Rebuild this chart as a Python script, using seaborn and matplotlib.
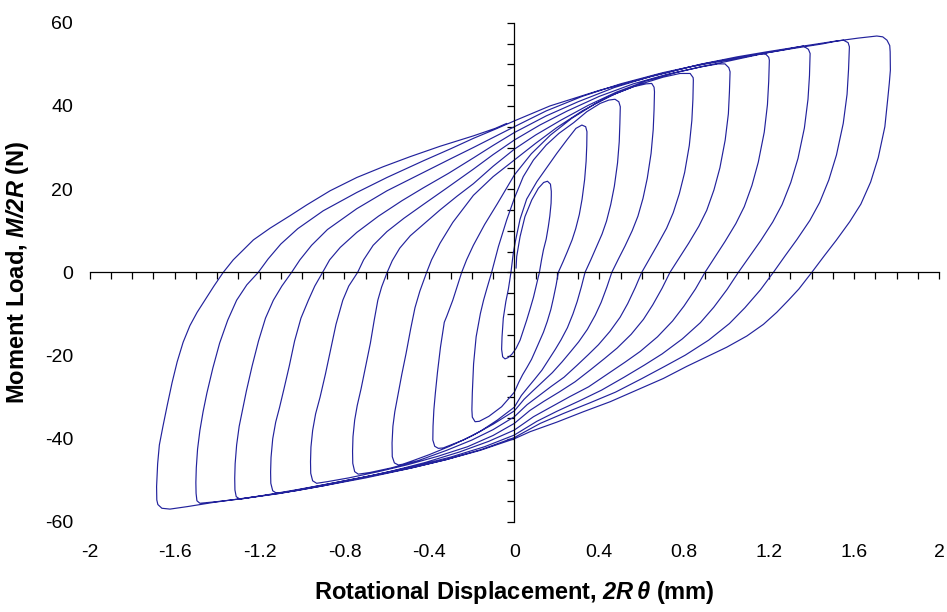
import matplotlib
matplotlib.use("Agg")
import matplotlib.pyplot as plt
import pandas as pd
import seaborn as sns

# ---------------- data ----------------
init_x = [0.008, 0.011, 0.027, 0.050, 0.082, 0.113, 0.138, 0.156, 0.170, 0.174]
init_y = [1.0, 3.8, 8.6, 13.4, 17.4, 20.2, 21.6, 21.9, 21.2, 19.5]

desc1_x = [0.174, 0.173, 0.167, 0.160, 0.150, 0.137, 0.128, 0.118, 0.104, 0.090, 0.074, 0.058, 0.042, 0.027, 0.008, -0.012, -0.030, -0.044, -0.055, -0.060]
desc1_y = [18.5, 16.6, 13.5, 11.0, 8.0, 5.4, 3.0, 0.0, -3.0, -6.0, -8.8, -11.5, -14.0, -16.3, -18.3, -19.7, -20.5, -20.8, -20.3, -18.5]
asc1_x = [-0.058, -0.052, -0.040, -0.028, -0.016, -0.005, 0.005, 0.027, 0.058, 0.106, 0.153, 0.200, 0.250, 0.290, 0.318, 0.336, 0.342]
asc1_y = [-15.5, -11.0, -7.0, -4.0, 0.0, 4.6, 7.5, 12.8, 17.6, 21.8, 25.2, 28.6, 32.0, 34.6, 35.4, 35.0, 33.8]

desc2_x = [0.341, 0.338, 0.331, 0.319, 0.306, 0.289, 0.272, 0.249, 0.229, 0.207, 0.197, 0.184, 0.172, 0.155, 0.137, 0.120, 0.101, 0.081, 0.060, 0.039, 0.021, 0.0, -0.060, -0.120, -0.165, -0.185, -0.198]
desc2_y = [30.4, 26.7, 22.3, 17.6, 13.9, 10.5, 7.8, 4.9, 2.5, 0.0, -3.0, -6.2, -8.9, -11.8, -14.4, -16.4, -18.6, -20.9, -22.8, -24.6, -26.4, -28.8, -32.3, -34.6, -35.8, -35.9, -34.8]
asc2_x = [-0.200, -0.198, -0.192, -0.180, -0.160, -0.145, -0.130, -0.107, -0.075, -0.036, 0.0, 0.042, 0.090, 0.150, 0.210, 0.280, 0.341, 0.404, 0.445, 0.474, 0.492, 0.499]
asc2_y = [-33.0, -29.0, -22.0, -15.5, -9.9, -6.7, -4.0, 0.0, 6.2, 12.6, 17.8, 23.0, 27.0, 30.6, 33.4, 36.0, 38.6, 40.6, 41.4, 41.6, 41.0, 39.8]

desc3_x = [0.497, 0.494, 0.486, 0.471, 0.454, 0.434, 0.413, 0.384, 0.360, 0.333, 0.316, 0.296, 0.276, 0.250, 0.220, 0.193, 0.163, 0.130, 0.097, 0.063, 0.033, 0.0, -0.080, -0.160, -0.240, -0.300, -0.335, -0.358, -0.375, -0.384]
desc3_y = [35.8, 31.4, 26.3, 20.7, 16.3, 12.3, 9.2, 5.8, 3.0, 0.0, -3.4, -7.0, -10.0, -13.3, -16.2, -18.5, -20.9, -23.5, -25.6, -27.7, -29.6, -32.4, -35.5, -38.2, -40.3, -41.5, -42.2, -42.3, -41.8, -40.3]
asc3_x = [-0.384, -0.383, -0.379, -0.372, -0.362, -0.348, -0.330, -0.318, -0.290, -0.248, -0.225, -0.193, -0.140, -0.080, 0.0, 0.080, 0.170, 0.270, 0.380, 0.480, 0.560, 0.620, 0.647, 0.658, 0.660]
asc3_y = [-40.3, -37.0, -33.0, -29.0, -24.0, -18.0, -12.0, -10.5, -6.7, 0.0, 3.0, 6.5, 11.5, 16.5, 23.4, 28.5, 33.0, 37.0, 40.5, 43.0, 44.6, 45.3, 45.4, 44.5, 43.4]

desc4_x = [0.658, 0.654, 0.644, 0.626, 0.606, 0.582, 0.555, 0.521, 0.491, 0.459, 0.436, 0.409, 0.381, 0.344, 0.303, 0.266, 0.225, 0.179, 0.133, 0.087, 0.046, 0.0, -0.100, -0.200, -0.300, -0.400, -0.480, -0.525, -0.546, -0.565, -0.575]
desc4_y = [39.1, 34.3, 28.6, 22.6, 17.8, 13.5, 10.0, 6.3, 3.3, 0.0, -3.5, -7.2, -10.3, -13.7, -16.7, -19.0, -21.5, -24.1, -26.3, -28.5, -30.5, -33.3, -36.5, -39.3, -41.7, -43.8, -45.3, -46.1, -46.3, -45.8, -44.3]
asc4_x = [-0.576, -0.572, -0.563, -0.550, -0.530, -0.510, -0.488, -0.468, -0.445, -0.413, -0.390, -0.350, -0.290, -0.193, -0.100, 0.0, 0.100, 0.200, 0.320, 0.450, 0.580, 0.700, 0.780, 0.828, 0.842, 0.843]
asc4_y = [-41.0, -37.0, -33.5, -30.0, -24.5, -19.5, -13.5, -8.5, -4.5, 0.0, 3.0, 7.0, 12.0, 18.5, 23.0, 27.0, 31.0, 34.8, 38.8, 42.4, 45.0, 46.9, 47.8, 47.8, 46.8, 46.2]

desc5_x = [0.841, 0.836, 0.824, 0.802, 0.777, 0.748, 0.717, 0.675, 0.639, 0.600, 0.570, 0.534, 0.498, 0.450, 0.396, 0.348, 0.294, 0.234, 0.174, 0.114, 0.060, 0.0, -0.100, -0.200, -0.320, -0.450, -0.580, -0.680, -0.735, -0.752, -0.761]
desc5_y = [41.6, 36.5, 30.5, 24.0, 18.9, 14.3, 10.6, 6.7, 3.5, 0.0, -3.6, -7.5, -10.8, -14.2, -17.4, -19.8, -22.4, -25.2, -27.4, -29.7, -31.8, -34.7, -37.8, -40.3, -42.8, -45.2, -47.0, -48.1, -48.5, -47.9, -45.9]
asc5_x = [-0.762, -0.760, -0.752, -0.740, -0.722, -0.700, -0.678, -0.660, -0.643, -0.625, -0.599, -0.575, -0.540, -0.490, -0.429, -0.350, -0.270, -0.193, -0.100, 0.0, 0.100, 0.220, 0.350, 0.480, 0.620, 0.760, 0.880, 0.960, 0.992, 1.010, 1.016]
asc5_y = [-43.0, -39.5, -35.5, -32.0, -28.0, -22.5, -17.0, -11.5, -6.7, -3.5, 0.0, 2.8, 5.8, 8.8, 11.5, 15.0, 18.3, 21.3, 25.5, 29.6, 33.0, 36.6, 40.2, 43.3, 46.0, 48.0, 49.4, 50.1, 50.1, 49.2, 48.2]

desc6_x = [1.013, 1.008, 0.993, 0.968, 0.940, 0.906, 0.869, 0.821, 0.778, 0.733, 0.696, 0.652, 0.608, 0.550, 0.484, 0.425, 0.359, 0.286, 0.213, 0.139, 0.073, 0.0, -0.100, -0.220, -0.360, -0.500, -0.640, -0.780, -0.880, -0.931, -0.950, -0.959]
desc6_y = [43.4, 38.1, 31.8, 25.1, 19.8, 14.9, 11.1, 7.0, 3.6, 0.0, -3.8, -7.8, -11.3, -14.9, -18.2, -20.7, -23.4, -26.3, -28.7, -31.0, -33.2, -36.3, -39.2, -41.9, -44.2, -46.2, -47.9, -49.4, -50.3, -50.7, -50.1, -48.3]
asc6_x = [-0.960, -0.958, -0.950, -0.936, -0.915, -0.890, -0.865, -0.840, -0.808, -0.780, -0.738, -0.710, -0.665, -0.600, -0.520, -0.429, -0.320, -0.193, -0.100, 0.0, 0.120, 0.250, 0.400, 0.560, 0.720, 0.880, 1.020, 1.120, 1.165, 1.185, 1.198, 1.201]
asc6_y = [-45.5, -42.0, -38.0, -34.0, -30.0, -24.5, -18.5, -12.5, -6.7, -3.3, 0.0, 3.0, 6.5, 9.8, 13.0, 16.3, 20.2, 24.8, 28.3, 31.8, 35.4, 38.8, 42.3, 45.3, 47.6, 49.4, 50.9, 52.0, 52.5, 52.4, 51.7, 51.0]

desc7_x = [1.198, 1.192, 1.177, 1.149, 1.119, 1.083, 1.043, 0.992, 0.946, 0.898, 0.853, 0.799, 0.745, 0.674, 0.593, 0.521, 0.440, 0.350, 0.260, 0.171, 0.090, 0.0, -0.120, -0.260, -0.420, -0.580, -0.740, -0.900, -1.030, -1.119, -1.138, -1.147]
desc7_y = [45.9, 40.3, 33.7, 26.5, 20.9, 15.8, 11.7, 7.4, 3.8, 0.0, -4.0, -8.1, -11.7, -15.5, -19.0, -21.6, -24.4, -27.5, -29.9, -32.4, -34.7, -37.9, -40.6, -43.2, -45.7, -47.8, -49.6, -51.3, -52.5, -53.1, -52.5, -50.7]
asc7_x = [-1.148, -1.146, -1.138, -1.124, -1.106, -1.085, -1.060, -1.035, -1.005, -0.970, -0.940, -0.903, -0.870, -0.820, -0.742, -0.640, -0.530, -0.429, -0.310, -0.193, -0.100, 0.0, 0.150, 0.300, 0.470, 0.650, 0.830, 1.000, 1.160, 1.280, 1.340, 1.361, 1.385, 1.393]
asc7_y = [-48.0, -44.5, -40.0, -36.0, -32.5, -28.0, -22.5, -16.5, -11.0, -6.7, -3.3, 0.0, 3.0, 6.0, 9.6, 13.5, 17.2, 20.3, 23.8, 27.5, 30.5, 33.6, 37.6, 41.0, 44.4, 47.2, 49.4, 51.0, 52.5, 53.6, 54.2, 54.4, 53.6, 52.6]

desc8_x = [1.390, 1.383, 1.366, 1.336, 1.302, 1.261, 1.217, 1.160, 1.109, 1.055, 1.002, 0.939, 0.876, 0.791, 0.696, 0.612, 0.517, 0.411, 0.306, 0.200, 0.106, 0.0, -0.140, -0.300, -0.480, -0.660, -0.840, -1.020, -1.180, -1.293, -1.310, -1.316]
desc8_y = [47.3, 41.6, 34.7, 27.4, 21.6, 16.3, 12.1, 7.6, 3.9, 0.0, -4.1, -8.4, -12.1, -16.0, -19.6, -22.3, -25.2, -28.3, -30.9, -33.4, -35.8, -39.1, -41.9, -44.4, -46.7, -48.7, -50.5, -52.2, -53.6, -54.5, -53.9, -52.3]
asc8_x = [-1.317, -1.315, -1.308, -1.296, -1.280, -1.262, -1.235, -1.205, -1.172, -1.135, -1.095, -1.049, -1.010, -0.955, -0.880, -0.742, -0.600, -0.429, -0.300, -0.193, -0.100, 0.0, 0.150, 0.320, 0.500, 0.700, 0.900, 1.100, 1.300, 1.450, 1.520, 1.550, 1.572, 1.578]
asc8_y = [-49.5, -46.0, -41.5, -37.0, -33.0, -28.5, -22.5, -16.5, -11.0, -6.7, -3.3, 0.0, 3.0, 6.5, 10.3, 15.3, 19.6, 24.0, 27.3, 30.0, 32.4, 35.0, 38.8, 42.3, 45.3, 48.0, 50.2, 52.0, 53.7, 54.9, 55.6, 55.8, 55.2, 54.2]

desc9_x = [1.574, 1.567, 1.549, 1.517, 1.481, 1.438, 1.392, 1.331, 1.277, 1.220, 1.159, 1.086, 1.013, 0.915, 0.805, 0.708, 0.598, 0.476, 0.354, 0.232, 0.122, 0.0, -0.150, -0.320, -0.500, -0.700, -0.900, -1.100, -1.280, -1.400, -1.481, -1.495, -1.499]
desc9_y = [48.8, 42.8, 35.8, 28.2, 22.2, 16.8, 12.5, 7.9, 4.1, 0.0, -4.2, -8.5, -12.3, -16.3, -19.9, -22.6, -25.6, -28.8, -31.4, -33.9, -36.3, -39.7, -42.5, -45.0, -47.2, -49.4, -51.3, -53.1, -54.4, -55.1, -55.5, -54.9, -53.1]
asc9_x = [-1.500, -1.498, -1.492, -1.481, -1.466, -1.448, -1.420, -1.388, -1.350, -1.308, -1.260, -1.206, -1.160, -1.100, -1.020, -0.900, -0.742, -0.600, -0.429, -0.300, -0.193, -0.090, 0.0, 0.168, 0.404, 0.640, 0.875, 1.050, 1.189, 1.350, 1.503, 1.620, 1.707, 1.735, 1.755, 1.768, 1.770]
asc9_y = [-50.5, -47.0, -42.5, -38.0, -33.5, -29.0, -23.0, -17.0, -11.5, -6.7, -3.0, 0.0, 3.2, 6.8, 10.5, 14.8, 19.2, 22.8, 26.8, 29.7, 32.2, 34.4, 36.4, 40.0, 43.8, 47.0, 50.0, 51.8, 53.0, 54.3, 55.5, 56.3, 56.8, 56.6, 55.8, 54.5, 53.0]

desc10_x = [1.771, 1.766, 1.759, 1.745, 1.714, 1.678, 1.632, 1.580, 1.516, 1.460, 1.401, 1.340, 1.291, 1.236, 1.173, 1.095, 1.000, 0.922, 0.812, 0.702, 0.577, 0.451, 0.325, 0.200, 0.074, 0.0, -0.162, -0.320, -0.475, -0.630, -0.789, -0.950, -1.104, -1.260, -1.418, -1.540, -1.622, -1.660, -1.679, -1.684]
desc10_y = [48.6, 45.5, 41.9, 35.0, 27.6, 21.7, 16.4, 12.2, 7.7, 4.0, 0.0, -4.0, -6.7, -9.6, -12.5, -15.3, -18.0, -19.9, -22.6, -25.5, -28.3, -31.1, -33.5, -36.0, -38.3, -40.0, -42.8, -45.0, -46.9, -48.5, -50.0, -51.6, -53.1, -54.2, -55.3, -56.3, -56.9, -56.7, -55.8, -54.7]
asc10_x = [-1.685, -1.680, -1.672, -1.655, -1.635, -1.612, -1.588, -1.560, -1.528, -1.494, -1.455, -1.415, -1.371, -1.324, -1.229, -1.151, -1.057, -0.978, -0.868, -0.742, -0.617, -0.491, -0.350, -0.193, -0.090, -0.036]
asc10_y = [-51.5, -46.0, -41.5, -37.0, -32.0, -26.5, -21.5, -16.8, -12.8, -9.6, -6.5, -3.3, 0.0, 3.0, 7.8, 10.6, 13.6, 16.2, 19.6, 22.8, 25.4, 27.8, 30.3, 32.8, 34.6, 35.8]

x_tick_values = [-2.0, -1.6, -1.2, -0.8, -0.4, 0.0, 0.4, 0.8, 1.2, 1.6, 2.0]
x_tick_labels = ["-2", "-1.6", "-1.2", "-0.8", "-0.4", "0", "0.4", "0.8", "1.2", "1.6", "2"]
y_tick_values = [-60, -40, -20, 0, 20, 40, 60]
y_tick_labels = ["-60", "-40", "-20", "0", "20", "40", "60"]

x_label = r"Rotational Displacement, $\mathbfit{2R\,\theta}$ (mm)"
y_label = r"Moment Load, $\mathbfit{M/2R}$ (N)"

# ---------------- assemble one continuous record ----------------
segments = [(init_x, init_y),
            (desc1_x, desc1_y), (asc1_x, asc1_y),
            (desc2_x, desc2_y), (asc2_x, asc2_y),
            (desc3_x, desc3_y), (asc3_x, asc3_y),
            (desc4_x, desc4_y), (asc4_x, asc4_y),
            (desc5_x, desc5_y), (asc5_x, asc5_y),
            (desc6_x, desc6_y), (asc6_x, asc6_y),
            (desc7_x, desc7_y), (asc7_x, asc7_y),
            (desc8_x, desc8_y), (asc8_x, asc8_y),
            (desc9_x, desc9_y), (asc9_x, asc9_y),
            (desc10_x, desc10_y), (asc10_x, asc10_y)]
xs, ys = [], []
for sx, sy in segments:
    xs.extend(sx)
    ys.extend(sy)
df = pd.DataFrame({"x": xs, "y": ys})

# ---------------- style ----------------
sns.set_style("white")
plt.rcParams["font.family"] = ["Liberation Sans", "DejaVu Sans"]
plt.rcParams["text.color"] = "black"
plt.rcParams["axes.labelcolor"] = "black"
plt.rcParams["xtick.color"] = "black"
plt.rcParams["ytick.color"] = "black"
plt.rcParams["mathtext.fontset"] = "custom"
plt.rcParams["mathtext.rm"] = "Liberation Sans"
plt.rcParams["mathtext.it"] = "Liberation Sans:italic"
plt.rcParams["mathtext.bf"] = "Liberation Sans:bold"
plt.rcParams["mathtext.bfit"] = "Liberation Sans:italic:bold"

W, H = 947, 612
fig = plt.figure(figsize=(W / 100, H / 100), dpi=100)
left, right, top, bottom = 89.7, 939.0, 22.7, 522.0
rect = [left / W, 1 - bottom / H, (right - left) / W, (bottom - top) / H]

# axes that only carries the outer tick labels and titles
axl = fig.add_axes(rect)
axl.set_xlim(-2, 2)
axl.set_ylim(-60, 60)
axl.set_xticks(x_tick_values, x_tick_labels)
axl.set_yticks(y_tick_values, y_tick_labels)
axl.tick_params(length=0, labelsize=14, labelcolor="black")
axl.tick_params(axis="x", pad=16)
axl.tick_params(axis="y", pad=12)
for s in axl.spines.values():
    s.set_visible(False)
axl.patch.set_visible(False)
axl.set_xlabel(x_label, fontsize=17, fontweight="bold", va="center", color="black")
axl.set_ylabel(y_label, fontsize=17, fontweight="bold", va="center", ha="center", color="black")
axl.xaxis.set_label_coords(0.5, (bottom - 593) / (bottom - top))
axl.yaxis.set_label_coords((18 - left) / (right - left), 0.5)

# data axes with crossing axes at the origin
ax = fig.add_axes(rect)
ax.patch.set_visible(False)
sns.lineplot(data=df, x="x", y="y", sort=False, estimator=None,
             color="#22229c", linewidth=0.85, ax=ax)
ax.set_xlim(-2, 2)
ax.set_ylim(-60, 60)
ax.spines["left"].set_position(("data", 0))
ax.spines["bottom"].set_position(("data", 0))
ax.spines["top"].set_visible(False)
ax.spines["right"].set_visible(False)
for s in ("left", "bottom"):
    ax.spines[s].set_color("black")
    ax.spines[s].set_linewidth(0.9)
ax.set_xticks([i / 10 for i in range(-20, 21)])
ax.set_yticks(list(range(-60, 61, 5)))
ax.tick_params(bottom=True, left=True, top=False, right=False,
               direction="out", length=5, width=0.9, color="black",
               labelbottom=False, labelleft=False)
ax.set_xlabel("")
ax.set_ylabel("")

fig.savefig("out.png", dpi=100)
